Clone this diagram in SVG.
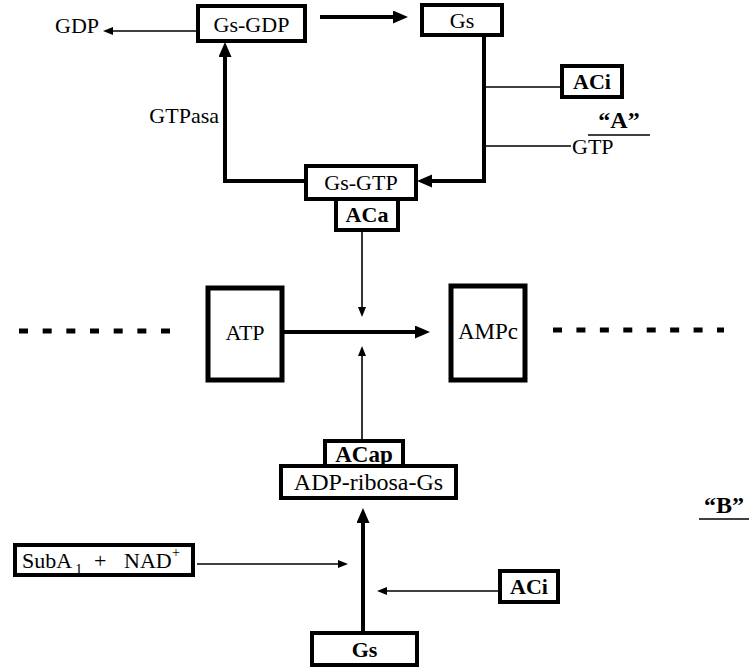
<svg xmlns="http://www.w3.org/2000/svg" width="753" height="668" viewBox="0 0 753 668">
<style>
  text { font-family: "Liberation Serif", Tinos, "DejaVu Serif", serif; font-size: 22px; fill: #000; }
  .b { font-weight: bold; }
  .c { text-anchor: middle; }
  .lbl { font-size: 24px; }
  .box { fill: #fff; stroke: #000; stroke-width: 4; }
  .bigbox { fill: #fff; stroke: #000; stroke-width: 5; }
  .thick { fill: none; stroke: #000; stroke-width: 4; }
  .thin { fill: none; stroke: #000; stroke-width: 1.6; }
  .dash { fill: none; stroke: #000; stroke-width: 5; }
</style>
<defs>
  <marker id="big" markerUnits="userSpaceOnUse" markerWidth="16" markerHeight="14" refX="3" refY="6.5" orient="auto">
    <path d="M0,0 L15,6.5 L0,13 z" fill="#000"/>
  </marker>
  <marker id="small" markerUnits="userSpaceOnUse" markerWidth="11" markerHeight="9" refX="2" refY="4" orient="auto">
    <path d="M0,0 L10,4 L0,8 z" fill="#000"/>
  </marker>
</defs>
<rect width="753" height="668" fill="#fff"/>

<g id="connectors">
  <line class="thin" x1="197" y1="31" x2="111" y2="31" marker-end="url(#small)"/>
  <line class="thick" x1="320" y1="17" x2="396" y2="17" marker-end="url(#big)"/>
  <polyline class="thick" points="484,35 484,181 429,181" marker-end="url(#big)"/>
  <polyline class="thick" points="306,181 225,181 225,54" marker-end="url(#big)"/>
  <line class="thin" x1="486" y1="87" x2="562" y2="87"/>
  <line class="thin" x1="486" y1="146" x2="571" y2="146"/>
  <line class="thin" x1="362" y1="230" x2="362" y2="309" marker-end="url(#small)"/>
  <line class="thick" x1="282" y1="332" x2="418" y2="332" marker-end="url(#big)"/>
  <line class="thin" x1="362" y1="440" x2="362" y2="354" marker-end="url(#small)"/>
  <line class="thick" x1="363" y1="633" x2="363" y2="520" marker-end="url(#big)"/>
  <line class="thin" x1="197" y1="564" x2="340" y2="564" marker-end="url(#small)"/>
  <line class="thin" x1="500" y1="591" x2="385" y2="591" marker-end="url(#small)"/>
  <line class="dash" x1="19" y1="331" x2="170" y2="331" stroke-dasharray="9 14.67"/>
  <line class="dash" x1="553" y1="330" x2="724" y2="330" stroke-dasharray="9 14.43"/>
</g>

<g id="gdp"><text x="55" y="33">GDP</text></g>
<g id="gs-gdp"><rect class="box" x="198" y="6" width="107" height="35"/><text class="c" x="251.5" y="32">Gs-GDP</text></g>
<g id="gs-top"><rect class="box" x="422" y="5" width="80" height="30"/><text class="c" x="462" y="28">Gs</text></g>
<g id="aci-top"><rect class="box" x="562" y="66" width="60" height="31"/><text class="c b" x="592" y="89">ACi</text></g>
<g id="gtp"><text x="572" y="154">GTP</text></g>
<g id="gtpasa"><text x="219" y="123" text-anchor="end">GTPasa</text></g>
<g id="label-a"><text class="c b lbl" x="619" y="128">“A”</text><line x1="588" y1="135" x2="650" y2="135" stroke="#000" stroke-width="1.6"/></g>
<g id="gs-gtp"><rect class="box" x="306" y="166" width="110" height="33"/><text class="c" x="361" y="190">Gs-GTP</text></g>
<g id="aca"><rect class="box" x="336" y="199" width="62" height="31"/><text class="c b" x="367" y="222">ACa</text></g>
<g id="atp"><rect class="bigbox" x="208" y="288" width="74" height="92"/><text class="c" x="245" y="340">ATP</text></g>
<g id="ampc"><rect class="bigbox" x="451" y="286" width="74" height="94"/><text class="c" x="488" y="339" style="font-size:23px">AMPc</text></g>
<g id="acap"><rect class="box" x="325" y="441" width="78" height="25"/><text class="c b" x="364" y="462" style="font-size:23px">ACap</text></g>
<g id="adp-ribosa-gs"><rect class="box" x="281" y="466" width="175" height="32"/><text class="c" x="368.5" y="490" style="font-size:24px">ADP-ribosa-Gs</text></g>
<g id="label-b"><text class="c b lbl" x="724" y="513">“B”</text><line x1="699" y1="519" x2="749" y2="519" stroke="#000" stroke-width="1.6"/></g>
<g id="suba-nad"><rect class="box" x="15" y="545" width="178" height="30"/>
  <text x="22" y="568">SubA</text><text x="75" y="574" style="font-size:15px">1</text>
  <text x="94" y="568">+</text><text x="124" y="568">NAD</text><text x="172" y="557" style="font-size:14px">+</text>
</g>
<g id="aci-bottom"><rect class="box" x="500" y="571" width="58" height="31"/><text class="c b" x="529" y="594">ACi</text></g>
<g id="gs-bottom"><rect class="box" x="312" y="633" width="105" height="32"/><text class="c b" x="364.5" y="657">Gs</text></g>
</svg>
